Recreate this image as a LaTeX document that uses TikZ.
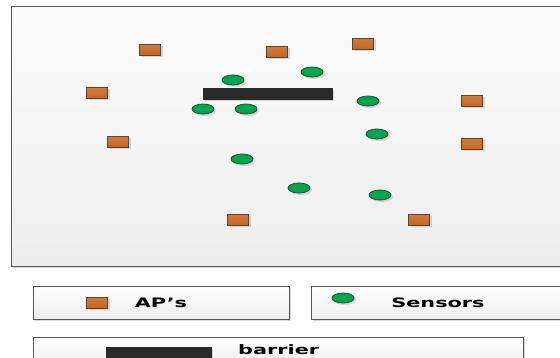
\documentclass[tikz,border=0pt]{standalone}
\usepackage{fontspec}
\setmainfont{DejaVu Sans}
\usepackage{tikz}
\usetikzlibrary{shadows,shapes.geometric}
\definecolor{aporange}{RGB}{200,100,28}
\definecolor{apedge}{RGB}{85,70,55}
\definecolor{sensorgreen}{RGB}{0,165,80}
\definecolor{sensoredge}{RGB}{35,70,45}
\definecolor{barriergray}{RGB}{42,42,42}
\definecolor{frameedge}{RGB}{85,85,85}

\begin{document}
\begin{tikzpicture}[x=1pt,y=-1pt,
  softshadow/.style={drop shadow={shadow xshift=2pt,shadow yshift=-2pt,fill=black!30,opacity=0.5}},
  ap/.style={rectangle,draw=apedge,line width=0.8pt,top color=aporange!85!white,bottom color=aporange,minimum width=21pt,minimum height=11pt,inner sep=0pt,softshadow},
  sensor/.style={ellipse,draw=sensoredge,line width=0.8pt,fill=sensorgreen,minimum width=22pt,minimum height=10pt,inner sep=0pt,softshadow},
  wall/.style={draw=barriergray,fill=barriergray,softshadow},
  legbox/.style={draw=frameedge,line width=0.6pt,top color=white,bottom color=black!7,softshadow},
  legtext/.style={font=\fontsize{13}{15}\selectfont\bfseries,inner sep=0pt}]
\clip (0,0) rectangle (560,358);
\fill[white] (0,0) rectangle (560,358);
% Field
\draw[draw=frameedge,line width=0.8pt,top color=black!1,bottom color=black!7,softshadow] (11,6) rectangle (570,266);
% Barrier
\draw[wall] (203,88) rectangle (332,99);
% APs
\node[ap] (ap1) at (150,50) {};
\node[ap] (ap2) at (97,93) {};
\node[ap] (ap3) at (277,52) {};
\node[ap] (ap4) at (363,44) {};
\node[ap] (ap5) at (472,101) {};
\node[ap] (ap6) at (118,142) {};
\node[ap] (ap7) at (472,144) {};
\node[ap] (ap8) at (238,220) {};
\node[ap] (ap9) at (419,220) {};
% Sensors
\node[sensor] (s1) at (233,80) {};
\node[sensor] (s2) at (203,109) {};
\node[sensor] (s3) at (246,109) {};
\node[sensor] (s4) at (312,72) {};
\node[sensor] (s5) at (368,101) {};
\node[sensor] (s6) at (377,134) {};
\node[sensor] (s7) at (242,159) {};
\node[sensor] (s8) at (299,188) {};
\node[sensor] (s9) at (380,195) {};
% Legend
\draw[legbox] (33,286) rectangle (289,319);
\node[ap] (legap) at (97,303) {};
\node[legtext] (aplabel) at (161,303) {\scalebox{1.6}[1]{AP’s}};
\draw[legbox] (311,286) rectangle (570,319);
\node[sensor] (legsensor) at (343,298) {};
\node[legtext] (sensorlabel) at (438,303) {\scalebox{1.6}[1]{Sensors}};
\draw[legbox] (33,337) rectangle (523,370);
\draw[wall] (106,347) rectangle (211,370);
\node[legtext,anchor=base west] (barrierlabel) at (238,355) {\scalebox{1.6}[1]{barrier}};
\end{tikzpicture}
\end{document}
